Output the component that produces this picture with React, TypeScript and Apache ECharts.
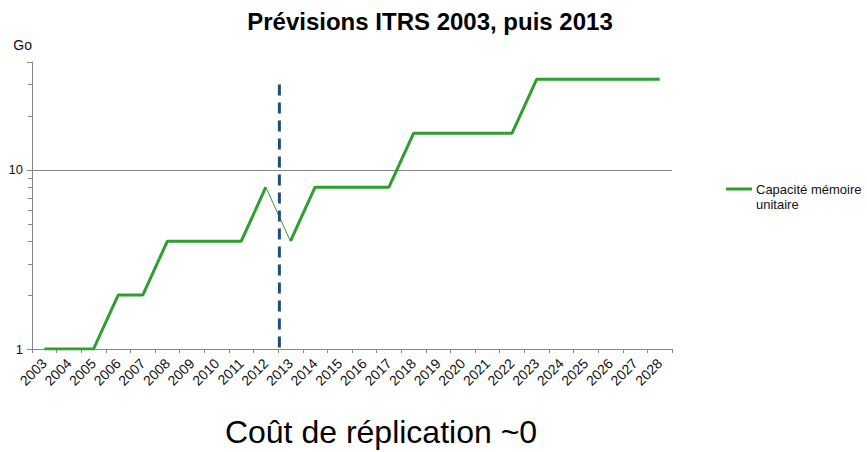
import React, { useEffect, useRef } from "react";
import * as echarts from "echarts";

const years = ["2003","2004","2005","2006","2007","2008","2009","2010","2011","2012","2013","2014","2015","2016","2017","2018","2019","2020","2021","2022","2023","2024","2025","2026","2027","2028"];
const capacity = [1,1,1,2,2,4,4,4,4,8,4,8,8,8,8,16,16,16,16,16,32,32,32,32,32,32];
const thinFrom = 9; // thin segment 2012 -> 2013
const minorTickValues = [2,3,4,5,6,7,8,9,20,30];
const gridValue = 10;
const dividerIndex = 9;      // between 2012 and 2013
const dividerFraction = 0.55;
const dividerRange = [1, 30];

const FONT = "Liberation Sans, Arial, sans-serif";
const GREEN = "#2f9e2f";
const AXIS = "#868686";

export default function App() {
  const ref = useRef<HTMLDivElement>(null);
  useEffect(() => {
    if (!ref.current) return;
    const chart = echarts.init(ref.current, null, { renderer: "svg" });
    const partA = capacity.map((v, i) => (i <= thinFrom ? v : "-"));
    const partThin = capacity.map((v, i) => (i === thinFrom || i === thinFrom + 1 ? v : "-"));
    const partB = capacity.map((v, i) => (i >= thinFrom + 1 ? v : "-"));
    chart.setOption({
      animation: false,
      textStyle: { fontFamily: FONT },
      title: {
        text: "Prévisions ITRS 2003, puis 2013",
        left: 425,
        textAlign: "center",
        top: 4,
        textStyle: { fontSize: 24, fontWeight: "bold", color: "#000", fontFamily: FONT },
      },
      grid: { left: 32, right: 195, top: 62, bottom: 103 },
      xAxis: {
        type: "category",
        data: years,
        boundaryGap: true,
        axisLine: { lineStyle: { color: AXIS, width: 1 } },
        axisTick: { show: true, length: 4, lineStyle: { color: AXIS }, interval: 0 },
        axisLabel: { interval: 0, rotate: 45, fontSize: 14, color: "#111", margin: 12, fontFamily: FONT },
        splitLine: { show: false },
      },
      yAxis: {
        type: "log",
        logBase: 10,
        min: 1,
        max: 40,
        name: "Go",
        nameLocation: "end",
        nameGap: 10,
        nameTextStyle: { fontSize: 14, color: "#111", align: "right", padding: [0, 0, 0, 0], fontFamily: FONT },
        axisLine: { show: true, lineStyle: { color: AXIS, width: 1 } },
        axisTick: { show: true, length: 5, lineStyle: { color: AXIS } },
        axisLabel: {
          fontSize: 13,
          color: "#111",
          margin: 9,
          fontFamily: FONT,
          formatter: (v: number) => {
            const r = Math.round(v);
            return Math.abs(v - r) < 1e-6 && (r === 1 || r === 10) ? String(r) : "";
          },
        },
        splitLine: { show: false },
      },
      graphic: [
        {
          type: "line",
          shape: { x1: 726, y1: 189, x2: 752, y2: 189 },
          style: { stroke: GREEN, lineWidth: 3 },
        },
        {
          type: "text",
          x: 756,
          y: 182,
          style: { text: "Capacité mémoire\nunitaire", font: `13px ${FONT}`, fill: "#111", lineHeight: 15 },
        },
        {
          type: "text",
          x: 381,
          y: 416,
          style: { text: "Coût de réplication ~0", font: `32px ${FONT}`, fill: "#000", textAlign: "center" },
        },
      ],
      series: [
        {
          name: "grid",
          type: "line",
          data: [],
          markLine: {
            silent: true,
            symbol: "none",
            label: { show: false },
            lineStyle: { color: AXIS, width: 1, type: "solid" },
            data: [{ yAxis: gridValue }],
          },
        },
        {
          name: "Capacité mémoire unitaire",
          type: "line",
          data: partA,
          showSymbol: false,
          lineStyle: { color: GREEN, width: 3 },
          itemStyle: { color: GREEN },
          z: 5,
        },
        {
          name: "thin",
          type: "line",
          data: partThin,
          showSymbol: false,
          lineStyle: { color: GREEN, width: 1 },
          itemStyle: { color: GREEN },
          z: 5,
        },
        {
          name: "Capacité mémoire unitaire B",
          type: "line",
          data: partB,
          showSymbol: false,
          lineStyle: { color: GREEN, width: 3 },
          itemStyle: { color: GREEN },
          z: 5,
        },
        {
          name: "minorTicks",
          type: "custom",
          clip: false,
          silent: true,
          z: 8,
          data: minorTickValues.map((v) => [0, v]),
          renderItem: (params: any, api: any) => {
            const p = api.coord([0, api.value(1)]);
            const x0 = params.coordSys.x;
            return {
              type: "line",
              shape: { x1: x0 - 4, y1: Math.round(p[1]) + 0.5, x2: x0, y2: Math.round(p[1]) + 0.5 },
              style: { stroke: AXIS, lineWidth: 1 },
            };
          },
        },
        {
          name: "divider",
          type: "custom",
          clip: false,
          silent: true,
          z: 10,
          data: [[dividerIndex, dividerRange[1], dividerIndex + 1, dividerRange[0]]],
          renderItem: (params: any, api: any) => {
            const a = api.coord([api.value(0), api.value(1)]);
            const b = api.coord([api.value(2), api.value(3)]);
            const x = a[0] + dividerFraction * (b[0] - a[0]);
            return {
              type: "line",
              shape: { x1: x, y1: a[1], x2: x, y2: b[1] },
              style: { stroke: "#1f4e79", lineWidth: 3, lineDash: [11, 7] },
            };
          },
        },
      ],
    });
    return () => chart.dispose();
  }, []);
  return <div ref={ref} style={{ width: 867, height: 452, position: "absolute", left: 0, top: 0 }} />;
}
